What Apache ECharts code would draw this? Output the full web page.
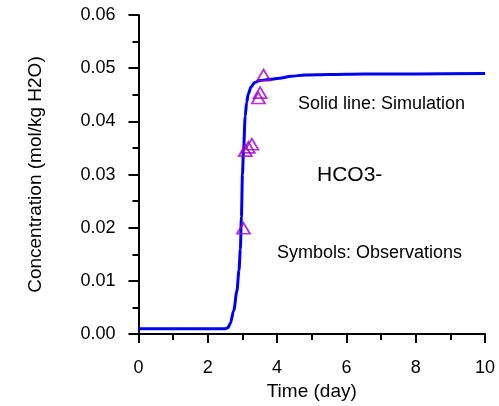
<!DOCTYPE html>
<html>
<head>
<meta charset="utf-8">
<script src="https://cdn.jsdelivr.net/npm/echarts@6/dist/echarts.min.js"></script>
<style>
  html, body { margin: 0; padding: 0; background: #fff; }
  #main { width: 499px; height: 406px; }
</style>
</head>
<body>
<div id="main"></div>
<script>
// simulated HCO3- curve (day, mol/kg H2O)
const simTime = [0, 1, 2, 2.5, 2.58, 2.65, 2.75, 2.84, 2.9, 2.94, 2.97, 3.0, 3.03, 3.08, 3.12, 3.17, 3.25, 3.35, 3.5, 3.8, 4.07, 4.4, 4.8, 5.5, 6.5, 8, 10];
const simConc = [0.001, 0.001, 0.001, 0.001, 0.0012, 0.002, 0.0045, 0.0081, 0.012, 0.016, 0.022, 0.03, 0.0345, 0.041, 0.0435, 0.0452, 0.0465, 0.0473, 0.0477, 0.0479, 0.0481, 0.0485, 0.0487, 0.0488, 0.0489, 0.0489, 0.049];
// observations
const obsTime = [3.03, 3.08, 3.17, 3.27, 3.46, 3.51, 3.61];
const obsConc = [0.0199, 0.0345, 0.0351, 0.0357, 0.0444, 0.0454, 0.0487];

const font = 'Arial, "Liberation Sans", sans-serif';

let myChart = echarts.init(document.getElementById('main'));
myChart.setOption({
  animation: false,
  grid: { left: 138.5, right: 14, top: 15, bottom: 69 },
  xAxis: {
    type: 'value',
    min: 0, max: 10, interval: 2,
    name: 'Time (day)',
    nameLocation: 'middle',
    nameGap: 44,
    nameTextStyle: { color: '#000', fontSize: 19, fontFamily: font },
    axisLine: { lineStyle: { color: '#000', width: 2 } },
    axisTick: { length: 9, lineStyle: { color: '#000', width: 2 } },
    minorTick: { show: true, splitNumber: 2, length: 6, lineStyle: { color: '#000', width: 2 } },
    axisLabel: { color: '#000', fontSize: 18, fontFamily: font, margin: 25 },
    splitLine: { show: false }
  },
  yAxis: {
    type: 'value',
    min: 0, max: 0.06, interval: 0.01,
    name: 'Concentration (mol/kg H2O)',
    nameLocation: 'middle',
    nameGap: 93,
    nameTextStyle: { color: '#000', fontSize: 19, fontFamily: font },
    axisLine: { show: true, lineStyle: { color: '#000', width: 2 } },
    axisTick: { show: true, length: 10, lineStyle: { color: '#000', width: 2 } },
    minorTick: { show: true, splitNumber: 2, length: 6, lineStyle: { color: '#000', width: 2 } },
    axisLabel: {
      color: '#000', fontSize: 18, fontFamily: font, margin: 23,
      formatter: v => v.toFixed(2)
    },
    splitLine: { show: false }
  },
  graphic: [
    { type: 'text', left: 298, top: 95, style: { text: 'Solid line: Simulation', fontSize: 18, fontFamily: font, fill: '#000' } },
    { type: 'text', left: 317, top: 165, style: { text: 'HCO3-', fontSize: 21, fontFamily: font, fill: '#000' } },
    { type: 'text', left: 277, top: 244, style: { text: 'Symbols: Observations', fontSize: 18, fontFamily: font, fill: '#000' } }
  ],
  series: [
    {
      name: 'Simulation',
      type: 'line',
      data: simTime.map((t, i) => [t, simConc[i]]),
      smooth: 0.3,
      smoothMonotone: 'x',
      showSymbol: false,
      lineStyle: { color: '#0000f0', width: 3 },
      z: 2
    },
    {
      name: 'Observations',
      type: 'scatter',
      data: obsTime.map((t, i) => [t, obsConc[i]]),
      symbol: 'triangle',
      symbolSize: [13, 11],
      itemStyle: { color: 'rgba(0,0,0,0)', borderColor: '#a000c8', borderWidth: 1.8 },
      z: 3
    }
  ]
});
</script>
</body>
</html>
